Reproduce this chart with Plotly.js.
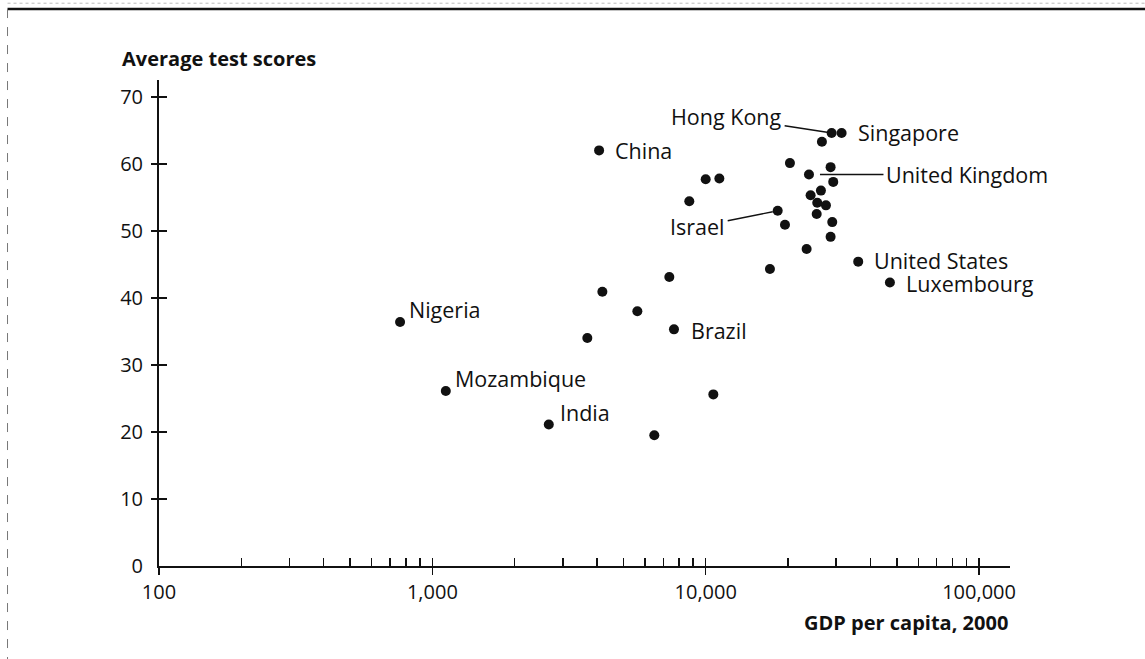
<!DOCTYPE html>
<html>
<head>
<meta charset="utf-8">
<script src="https://cdn.plot.ly/plotly-3.0.1.min.js"></script>
<style>html,body{margin:0;padding:0;background:#fff;}#chart{width:1145px;height:659px;}</style>
</head>
<body>
<div id="chart"></div>
<script>
// ---- data ----
const gdp = [762,1120,2667,3690,4074,4188,5623,7362,7656,6486,10665,8710,10000,11220,17180,23400,18340,19500,20330,23870,26620,28890,31420,28640,29280,26400,24200,25590,27540,25470,29040,28640,36140,47200];
const score = [36.4,26.1,21.1,34.0,62.0,40.9,38.0,43.1,35.3,19.5,25.6,54.4,57.7,57.8,44.3,47.3,53.0,50.9,60.1,58.4,63.3,64.6,64.6,59.5,57.3,56.0,55.3,54.2,53.8,52.5,51.3,49.1,45.4,42.3];
const names = ["Nigeria","Mozambique","India","","China","","","","Brazil",
  "","","","","","","",
  "Israel","","","United Kingdom","","Hong Kong","Singapore",
  "","","","","","","","","",
  "United States","Luxembourg"];

const xMajorVals = [100,1000,10000,100000];
const xMajorText = ["100","1,000","10,000","100,000"];
const xMinorVals = [200,300,400,500,600,700,800,900,1000,2000,3000,4000,5000,6000,7000,8000,9000,10000,20000,30000,40000,50000,60000,70000,80000,90000,100000];
const yTickVals = [0,10,20,30,40,50,60,70];
const yTickText = ["0","10","20","30","40","50","60","70"];
const yMarkVals = [10,20,30,40,50,60,70];

const yTitle = "Average test scores";
const xTitle = "GDP per capita, 2000";

// ---- label styles (offsets in px) ----
const labelStyle = {
  "Nigeria":        {type:"text", xshift:7,  yshift:12},
  "Mozambique":     {type:"text", xshift:7,  yshift:13},
  "India":          {type:"text", xshift:9,  yshift:12},
  "China":          {type:"text", xshift:14, yshift:0},
  "Brazil":         {type:"text", xshift:15, yshift:-1},
  "United States":  {type:"text", xshift:14, yshift:1},
  "Luxembourg":     {type:"text", xshift:14, yshift:-1},
  "Singapore":      {type:"text", xshift:14, yshift:0},
  "Hong Kong":      {type:"arrow", ax:-105, ay:-16, standoff:3},
  "United Kingdom": {type:"arrow", ax:158, ay:0, standoff:11},
  "Israel":         {type:"arrow", ax:-80, ay:16, standoff:5}
};

const FONT = "'Open Sans', 'Noto Sans', sans-serif";
const INK = "#111";
const FS = 20;
const LFS = 21.5;
const xRange = [2, Math.log10(129800)];
const yRange = [0, 72.5];

const annotations = [];
names.forEach((n, i) => {
  if (!n) return;
  const s = labelStyle[n];
  const base = {x: Math.log10(gdp[i]), y: score[i], xref:"x", yref:"y", text:n,
                font:{family:FONT, size:LFS, color:INK}};
  if (s.type === "text") {
    annotations.push(Object.assign(base, {showarrow:false, xanchor:"left", yanchor:"middle",
      xshift:s.xshift, yshift:s.yshift}));
  } else {
    annotations.push(Object.assign(base, {showarrow:true, arrowhead:0, arrowwidth:1.4,
      arrowcolor:INK, ax:s.ax, ay:s.ay, standoff:s.standoff, borderpad:2}));
  }
});
annotations.push({text:"<b>"+yTitle+"</b>", xref:"paper", yref:"paper", x:-0.0455, y:1.045,
  xanchor:"left", yanchor:"middle", showarrow:false, font:{family:FONT, size:FS, color:INK}});
annotations.push({text:"<b>"+xTitle+"</b>", xref:"paper", yref:"paper", x:1.0, y:-0.116,
  xanchor:"right", yanchor:"middle", showarrow:false, font:{family:FONT, size:FS, color:INK}});

const traces = [
  {type:"scatter", mode:"markers", x:gdp, y:score, text:names,
   marker:{color:INK, size:10, line:{width:0}}, hoverinfo:"text+x+y", cliponaxis:false},
  {type:"scatter", mode:"markers", x:[], y:[], xaxis:"x2", yaxis:"y2", showlegend:false},
  {type:"scatter", mode:"markers", x:[], y:[], xaxis:"x", yaxis:"y3", showlegend:false}
];

const baseAx = {showgrid:false, zeroline:false, fixedrange:true};

const layout = {
  width:1145, height:659,
  margin:{l:159, r:135, t:80, b:93, pad:0},
  paper_bgcolor:"#fff", plot_bgcolor:"#fff",
  showlegend:false,
  font:{family:FONT, size:FS, color:INK},
  xaxis: Object.assign({}, baseAx, {type:"log", range:xRange, showline:true, linecolor:INK, linewidth:2,
    tickmode:"array", tickvals:xMajorVals, ticktext:xMajorText, ticks:"outside", ticklen:7,
    tickwidth:1.5, tickcolor:INK, ticklabelstandoff:0, tickfont:{family:FONT, size:FS, color:INK}}),
  xaxis2: Object.assign({}, baseAx, {type:"log", range:xRange, overlaying:"x", anchor:"y", side:"bottom",
    showline:false, tickmode:"array", tickvals:xMinorVals, ticks:"inside", ticklen:8, tickwidth:1.5,
    tickcolor:INK, showticklabels:false}),
  yaxis: Object.assign({}, baseAx, {range:yRange, showline:true, linecolor:INK, linewidth:2,
    tickmode:"array", tickvals:yTickVals, ticktext:yTickText, ticks:"", ticklabelstandoff:10,
    tickfont:{family:FONT, size:FS, color:INK}}),
  yaxis2: Object.assign({}, baseAx, {range:yRange, overlaying:"y", anchor:"x", side:"left",
    tickmode:"array", tickvals:yMarkVals, ticks:"outside", ticklen:7, tickwidth:1.5, tickcolor:INK,
    showticklabels:false, showline:false}),
  yaxis3: Object.assign({}, baseAx, {range:yRange, overlaying:"y", anchor:"x", side:"left",
    tickmode:"array", tickvals:yMarkVals, ticks:"inside", ticklen:8, tickwidth:1.5, tickcolor:INK,
    showticklabels:false, showline:false}),
  annotations: annotations,
  shapes: [
    {type:"line", xref:"paper", yref:"paper", x0:-0.178, x1:1.16, y0:1.146, y1:1.146,
     line:{color:INK, width:2.5}},
    {type:"line", xref:"paper", yref:"paper", x0:-0.178, x1:1.16, y0:1.158, y1:1.158,
     line:{color:"#bbb", width:1, dash:"dot"}},
    {type:"line", xref:"paper", yref:"paper", x0:-0.178, x1:-0.178, y0:1.146, y1:-0.2,
     line:{color:"#777", width:1, dash:"dash"}}
  ]
};

Plotly.newPlot("chart", traces, layout, {staticPlot:true, displayModeBar:false});
</script>
</body>
</html>
